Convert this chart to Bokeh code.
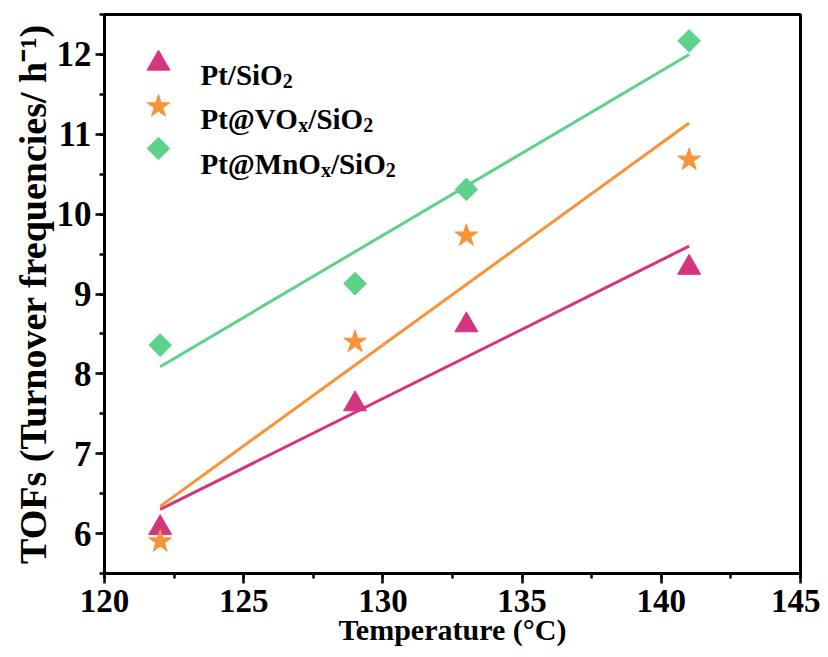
import numpy as np
from bokeh.plotting import figure
from bokeh.models import Label, SingleIntervalTicker, Range1d
from bokeh.embed import file_html
from bokeh.resources import INLINE

# ---------------- data ----------------
temperature = [122, 129, 133, 141]
tof_pt_sio2 = [6.07, 7.62, 8.61, 9.33]
tof_pt_vox = [5.90, 8.40, 9.73, 10.68]
tof_pt_mnox = [8.36, 9.13, 10.31, 12.17]

series_values = [tof_pt_sio2, tof_pt_vox, tof_pt_mnox]
# legend texts split into (text, kind) with kind "n"=normal, "b"=subscript
series_labels = [
    [("Pt/SiO", "n"), ("2", "b")],
    [("Pt@VO", "n"), ("x", "b"), ("/SiO", "n"), ("2", "b")],
    [("Pt@MnO", "n"), ("x", "b"), ("/SiO", "n"), ("2", "b")],
]
series_colors = ["#D4357F", "#F7943A", "#5FD28A"]
series_markers = ["triangle", "star", "square"]

x_title = "Temperature (\u00B0C)"
y_title = "TOFs (Turnover frequencies/ h\u207B\u00B9)"

X_START, X_END = 120, 145
Y_START, Y_END = 5.5, 12.5

# ---------------- layout ----------------
FRAME_W, FRAME_H = 696, 559
BL, BR, BT, BB = 104, 20, 14, 77
PAGE_X0, PAGE_Y0 = BL, BT   # frame top-left in picture pixels

FONT = "Liberation Serif"

# Times/Liberation Serif Bold advance widths (per 1000 em)
W = {' ': 250, '(': 333, ')': 333, '-': 333, '/': 278, '@': 930,
     'C': 722, 'F': 611, 'M': 944, 'O': 778, 'P': 611, 'S': 556, 'T': 667,
     'V': 722, 'a': 500, 'c': 444, 'e': 444, 'f': 333, 'h': 556, 'i': 278,
     'm': 833, 'n': 556, 'o': 500, 'p': 556, 'q': 556, 'r': 444, 's': 389,
     't': 333, 'u': 556, 'v': 500, 'x': 500}


def text_w(s, size):
    return sum(W.get(c, 500) for c in s) * size / 1000.0


def dx(px):  # picture x -> data x
    return X_START + (px - PAGE_X0) * (X_END - X_START) / FRAME_W


def dy(py):  # picture y -> data y
    return Y_END - (py - PAGE_Y0) * (Y_END - Y_START) / FRAME_H


p = figure(frame_width=FRAME_W, frame_height=FRAME_H,
           min_border_left=BL, min_border_right=BR,
           min_border_top=BT, min_border_bottom=BB,
           x_range=Range1d(X_START, X_END), y_range=Range1d(Y_START, Y_END),
           output_backend="svg", toolbar_location=None,
           background_fill_color="white", border_fill_color="white")

p.grid.visible = False
p.outline_line_color = "black"
p.outline_line_width = 3

p.xaxis.ticker = SingleIntervalTicker(interval=5, num_minor_ticks=2)
p.yaxis.ticker = SingleIntervalTicker(interval=1, num_minor_ticks=2)
for ax in (p.xaxis, p.yaxis):
    ax.axis_line_width = 3
    ax.axis_line_color = "black"
    ax.major_tick_line_width = 2.5
    ax.minor_tick_line_width = 2.5
    ax.major_tick_in = 0
    ax.minor_tick_in = 0
    ax.major_label_text_font = FONT
    ax.major_label_text_font_style = "bold"
    ax.major_label_text_color = "black"
    ax.axis_label_text_font = FONT
    ax.axis_label_text_font_style = "bold"
    ax.axis_label_text_color = "black"
p.xaxis.major_tick_out = 10
p.xaxis.minor_tick_out = 5
p.yaxis.major_tick_out = 9
p.yaxis.minor_tick_out = 5
p.xaxis.major_label_text_font_size = "33px"
p.yaxis.major_label_text_font_size = "35px"
p.xaxis.major_label_standoff = 6
p.yaxis.major_label_standoff = 4

p.xaxis.axis_label = x_title
p.yaxis.axis_label = y_title
p.xaxis.axis_label_text_font_size = "30px"
p.yaxis.axis_label_text_font_size = "38px"
p.xaxis.axis_label_standoff = -2
p.yaxis.axis_label_standoff = 0

# ---------------- series ----------------
marker_sizes = {"triangle": 23, "star": 24, "square": 16}
for vals, col, mk in zip(series_values, series_colors, series_markers):
    slope, icpt = np.polyfit(temperature, vals, 1)
    xs = [min(temperature), max(temperature)]
    p.line(xs, [slope * x + icpt for x in xs], line_color=col, line_width=3)
for vals, col, mk in zip(series_values, series_colors, series_markers):
    p.scatter(temperature, vals, marker=mk, size=marker_sizes[mk],
              angle=(np.pi / 4 if mk == "square" else 0),
              fill_color=col, line_color=col, line_width=1)

# ---------------- legend ----------------
LEG_MARK_X = 158
LEG_MARK_Y = [63, 106, 148]
LEG_TEXT_X = 200
LEG_BASE_Y = [74, 118, 163]
LEG_SIZE, LEG_SUB = 29, 20
for parts, col, mk, my, by in zip(series_labels, series_colors, series_markers,
                                  LEG_MARK_Y, LEG_BASE_Y):
    p.scatter([dx(LEG_MARK_X)], [dy(my)], marker=mk, size=marker_sizes[mk],
              angle=(np.pi / 4 if mk == "square" else 0),
              fill_color=col, line_color=col)
    cx = LEG_TEXT_X
    for txt, kind in parts:
        size = LEG_SIZE if kind == "n" else LEG_SUB
        base = by if kind == "n" else by + 6
        p.add_layout(Label(x=dx(cx), y=dy(base), text=txt,
                           text_font=FONT, text_font_style="bold",
                           text_font_size=f"{size}px", text_color="black",
                           text_align="left", text_baseline="alphabetic"))
        cx += text_w(txt, size)

open("out.html", "w").write(file_html(p, INLINE))
